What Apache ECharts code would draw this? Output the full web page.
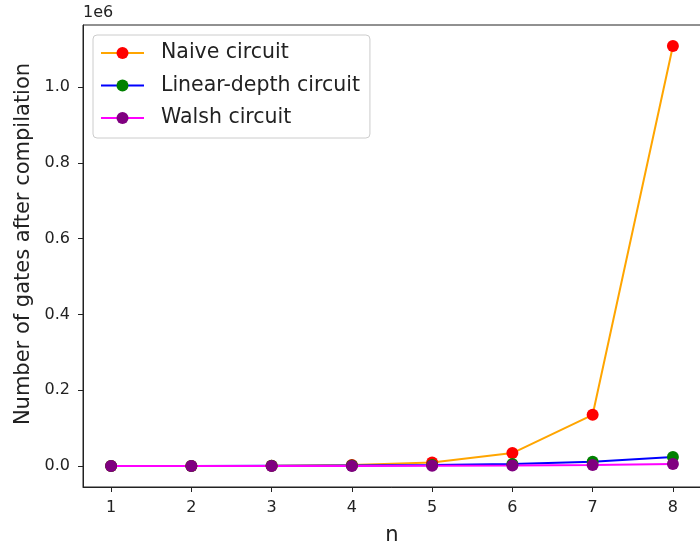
<!DOCTYPE html>
<html><head><meta charset="utf-8">
<script src="https://cdn.jsdelivr.net/npm/echarts@6/dist/echarts.min.js"></script>
<style>html,body{margin:0;padding:0;background:#fff}#c{width:700px;height:547px}</style>
</head><body><div id="c"></div>
<script>
const nValues = [1, 2, 3, 4, 5, 6, 7, 8];
const naiveGates = [30, 200, 700, 2500, 9000, 34000, 135000, 1108000];
const linearDepthGates = [30, 200, 500, 1200, 2500, 5000, 11000, 24000];
const walshGates = [20, 60, 150, 300, 600, 1200, 2500, 5000];
const yTicks = [0, 200000, 400000, 600000, 800000, 1000000];
const xTicks = nValues;

const font = 'DejaVu Sans';
const chart = echarts.init(document.getElementById('c'), null, {renderer: 'canvas'});
const mk = (name, data, lineColor, markColor) => ({
  name, type: 'line', data: nValues.map((n, i) => [n, data[i]]),
  symbol: 'circle', symbolSize: 12,
  lineStyle: {color: lineColor, width: 2},
  itemStyle: {color: markColor},
  color: markColor,
  animation: false
});
chart.setOption({
  animation: false,
  textStyle: {fontFamily: font},
  grid: {left: 83, right: -1, top: 25, bottom: 60, show: true, borderColor: '#222', borderWidth: 1,
    containLabel: false, outerBoundsMode: 'none'},
  graphic: [{type: 'text', left: 83, top: 5, style: {text: '1e6', font: '16px "DejaVu Sans"', fill: '#222'}}],
  legend: {
    orient: 'vertical', left: 93, top: 35,
    padding: [6, 10, 8, 7], itemGap: 8.5, itemWidth: 43, itemHeight: 15,
    borderColor: '#ccc', borderWidth: 1, borderRadius: 4,
    textStyle: {fontFamily: font, fontSize: 20.5, lineHeight: 24, color: '#222', padding: [0, 0, 0, 12]},
    data: ['Naive circuit', 'Linear-depth circuit', 'Walsh circuit']
  },
  xAxis: {
    type: 'value', min: 0.65, max: 8.35,
    name: 'n', nameLocation: 'middle', nameGap: 38,
    nameTextStyle: {fontFamily: font, fontSize: 21, color: '#222'},
    axisLine: {show: true, onZero: false, lineStyle: {color: '#222'}},
    axisTick: {show: true, length: 5, customValues: xTicks, lineStyle: {color: '#222'}},
    axisLabel: {customValues: xTicks, fontFamily: font, fontSize: 16, color: '#222', margin: 13},
    splitLine: {show: false}
  },
  yAxis: {
    type: 'value', min: -55400, max: 1163400,
    name: 'Number of gates after compilation', nameLocation: 'middle', nameGap: 48, nameRotate: 90,
    nameTextStyle: {fontFamily: font, fontSize: 21, color: '#222', padding: [0, 0, 0, 24]},
    axisLine: {show: true, onZero: false, lineStyle: {color: '#222'}},
    axisTick: {show: true, length: 5, customValues: yTicks, lineStyle: {color: '#222'}},
    axisLabel: {customValues: yTicks, fontFamily: font, fontSize: 16, color: '#222', margin: 13,
      formatter: v => (v / 1e6).toFixed(1)},
    splitLine: {show: false}
  },
  series: [
    mk('Naive circuit', naiveGates, '#FFA500', '#FF0000'),
    mk('Linear-depth circuit', linearDepthGates, '#0000FF', '#008000'),
    mk('Walsh circuit', walshGates, '#FF00FF', '#800080')
  ]
});
</script></body></html>
